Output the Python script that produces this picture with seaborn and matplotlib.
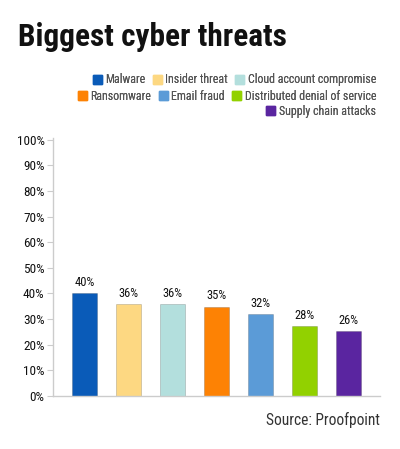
import pandas as pd
import matplotlib
matplotlib.use('Agg')
import matplotlib.pyplot as plt
import seaborn as sns

# chart data
threats = ['Malware', 'Insider threat', 'Cloud account compromise', 'Ransomware',
           'Email fraud', 'Distributed denial of service', 'Supply chain attacks']
shares = [40, 35.7, 35.7, 34.8, 31.8, 27.2, 25.3]
share_labels = ['40%', '36%', '36%', '35%', '32%', '28%', '26%']
colors = ['#0a5bb8', '#fdd882', '#b3dfdd', '#fd8204', '#5b9bd7', '#92d100', '#5a25a0']
y_ticks = [0, 10, 20, 30, 40, 50, 60, 70, 80, 90, 100]

data = pd.DataFrame({'threat': threats, 'share': shares})

sns.set_style('white')
plt.rcParams['font.family'] = ['Roboto Condensed', 'DejaVu Sans']
plt.rcParams['font.stretch'] = 'condensed'

fig = plt.figure(figsize=(4, 4.49), dpi=100)
ax = fig.add_axes([0.1325, 0.118, 0.8175, 0.574])

sns.barplot(data=data, x='threat', y='share', hue='threat', palette=colors,
            saturation=1, dodge=False, width=0.57, legend=False, ax=ax,
            edgecolor='#00000030', linewidth=0.6)

for i, (v, lab) in enumerate(zip(shares, share_labels)):
    ax.text(i, v + 1.8, lab, ha='center', va='bottom', fontsize=9, color='#111111')

ax.set_xlim(-0.72, 6.72)
ax.set_ylim(0, 100.5)
ax.set_yticks(y_ticks)
ax.set_yticklabels([f'{t}%' for t in y_ticks], fontsize=9.5, color='#111111')
ax.set_xticks([])
ax.set_xlabel('')
ax.set_ylabel('')
for s in ['top', 'right']:
    ax.spines[s].set_visible(False)
for s in ['left', 'bottom']:
    ax.spines[s].set_color('#cccccc')
    ax.spines[s].set_linewidth(1)
ax.tick_params(axis='y', left=True, length=4, width=0.8, color='#cccccc', pad=2)

# legend rows, right aligned like the original
handles = [plt.Rectangle((0, 0), 1, 1, color=c) for c in colors]
rows = [[0, 1, 2], [3, 4, 5], [6]]
row_y = [0.822, 0.786, 0.752]
for idx, y in zip(rows, row_y):
    leg = fig.legend([handles[i] for i in idx], [threats[i] for i in idx],
                     loc='center right', bbox_to_anchor=(0.955, y), ncol=len(idx),
                     frameon=False, fontsize=8.6, handlelength=0.75, handleheight=0.75,
                     handletextpad=0.3, columnspacing=0.6, borderpad=0,
                     labelcolor='#555555')
    fig.add_artist(leg)

fig.text(0.045, 0.898, 'Biggest cyber threats', fontsize=22.5, fontweight='bold',
         color='#111111', ha='left', va='baseline')
fig.text(0.95, 0.053, 'Source: Proofpoint', fontsize=11.2, color='#333333',
         ha='right', va='baseline')

fig.savefig('out.png', dpi=100)
